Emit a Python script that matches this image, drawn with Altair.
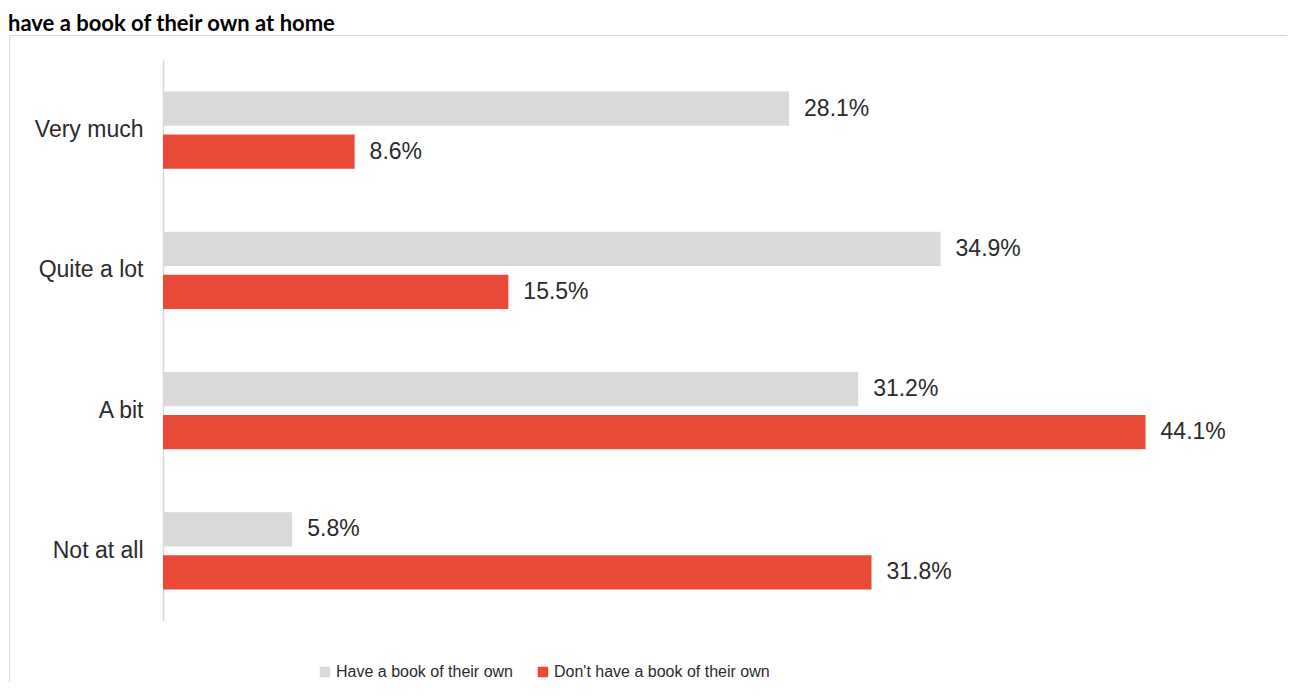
import altair as alt
import pandas as pd

categories = ["Very much", "Quite a lot", "A bit", "Not at all"]
series = ["Have a book of their own", "Don't have a book of their own"]
have_book = [28.1, 34.9, 31.2, 5.8]
no_book = [8.6, 15.5, 44.1, 31.8]
title_text = "have a book of their own at home"

GRAY = "#d9d9d9"
RED = "#e84a37"
TEXT = "#2b2b2b"

rows = []
for c, h, d in zip(categories, have_book, no_book):
    rows.append({"cat": c, "series": series[0], "value": h})
    rows.append({"cat": c, "series": series[1], "value": d})
df = pd.DataFrame(rows)

y_enc = alt.Y("cat:N", sort=categories, title=None,
              scale=alt.Scale(paddingInner=0.45, paddingOuter=0.225),
              axis=alt.Axis(domain=True, domainColor=GRAY, domainWidth=1.5, ticks=False,
                            labelPadding=20, labelFontSize=23, labelFont="Liberation Sans",
                            labelColor=TEXT, grid=False))
yoff = alt.YOffset("series:N", sort=series, scale=alt.Scale(paddingInner=0.2))
x_enc = alt.X("value:Q", scale=alt.Scale(domain=[0, 50]), axis=None)

base = alt.Chart(df)

bars = base.mark_bar().encode(
    y=y_enc, yOffset=yoff, x=x_enc,
    color=alt.Color("series:N", sort=series,
                    scale=alt.Scale(domain=series, range=[GRAY, RED]),
                    legend=alt.Legend(title=None, orient="none", legendX=154, legendY=604,
                                      direction="horizontal", symbolType="square",
                                      symbolSize=110, symbolStrokeWidth=0,
                                      labelFont="Liberation Sans",
                                      labelFontSize=16, labelColor=TEXT,
                                      labelOffset=3, columnPadding=22, labelLimit=400)),
)

labels = base.transform_calculate(
    label="format(datum.value, '.1f') + '%'"
).mark_text(align="left", baseline="middle", dx=15, fontSize=23,
            font="Liberation Sans", color=TEXT).encode(
    y=y_enc, yOffset=yoff, x=x_enc, text="label:N"
)

frame = alt.Chart(pd.DataFrame({"k": [0]})).mark_rect(
    fillOpacity=0, stroke=GRAY, strokeWidth=1
).encode(x=alt.value(-153.5), x2=alt.value(3000), y=alt.value(-24.5), y2=alt.value(3000))

title = alt.Chart(pd.DataFrame({"t": [title_text]})).mark_text(
    align="left", baseline="alphabetic", font="Lato", fontWeight="bold",
    fontSize=22, color="#000000"
).encode(x=alt.value(-155), y=alt.value(-29), text="t:N")

chart = alt.layer(frame, bars, labels, title).properties(
    width=1114, height=561,
    autosize=alt.AutoSizeParams(type="none"),
    padding={"left": 155, "top": 52, "right": 10, "bottom": 61},
).configure_view(stroke="transparent")

chart.save("out.html", embed_options={"renderer": "svg", "actions": False})
